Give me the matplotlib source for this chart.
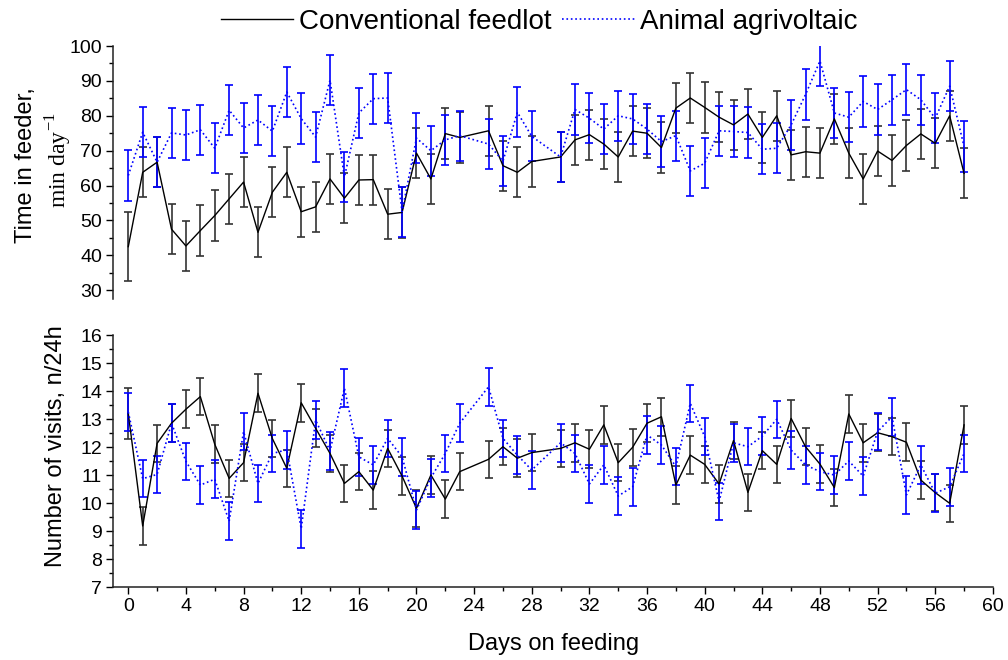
import numpy as np
import matplotlib
matplotlib.use('Agg')
from matplotlib import pyplot as plt
from matplotlib.lines import Line2D
from matplotlib.ticker import MultipleLocator

plt.rcParams['font.family'] = ['Liberation Sans', 'DejaVu Sans']

# days with records (24 and 29 missing)
days = list(range(0, 24)) + [25, 26, 27, 28] + list(range(30, 59))

# time in feeder, min/day
feed_conv = [42.5, 63.8, 66.7, 47.5, 42.7, 47.1, 51.4, 56.2, 61.0, 46.6, 58.1, 63.8,
             52.5, 53.9, 61.9, 56.4, 61.6, 61.7, 51.8, 52.3, 69.3, 61.9, 74.9, 73.8,
             75.7, 65.7, 63.8, 66.9,
             68.2, 73.1, 74.6, 71.9, 68.2, 75.6, 75.0, 70.9, 82.2, 85.1, 82.4, 79.6,
             77.4, 80.5, 73.8, 80.0, 68.8, 69.7, 69.3, 79.1, 69.3, 61.9, 69.9, 67.2,
             71.5, 74.8, 72.1, 80.0, 63.5]
feed_conv_err = [9.8] + [7.2] * 56
feed_agri = [62.9, 75.3, 66.7, 75.1, 74.5, 76.0, 70.7, 81.6, 76.5, 78.8, 75.6, 86.8,
             79.2, 73.9, 90.2, 62.5, 80.8, 84.9, 85.1, 52.5, 73.6, 70.0, 73.1, 74.3,
             71.9, 67.0, 81.0, 74.1,
             68.2, 81.8, 79.3, 76.2, 80.0, 79.1, 76.2, 72.6, 74.3, 64.2, 66.4, 75.7,
             75.5, 75.2, 70.4, 70.7, 77.4, 86.1, 95.7, 80.8, 79.6, 84.1, 81.8, 84.6,
             87.5, 84.6, 79.3, 88.5, 71.2]
feed_agri_err = [7.2] * 57

# number of visits, n/24h
visit_conv = [13.2, 9.18, 12.13, 12.85, 13.35, 13.8, 12.1, 10.88, 11.44, 13.92, 12.3, 11.24,
              13.58, 12.67, 11.77, 10.7, 11.12, 10.46, 11.95, 10.96, 9.81, 11.0, 10.14, 11.12,
              11.56, 12.01, 11.6, 11.8,
              11.95, 12.15, 11.92, 12.79, 11.44, 11.99, 12.85, 13.08, 10.64, 11.71, 11.38, 10.68,
              12.23, 10.38, 11.87, 11.38, 13.02, 12.01, 11.39, 10.55, 13.18, 12.15, 12.51, 12.37,
              12.17, 10.82, 10.37, 9.99, 12.79]
visit_conv_err = [0.9] + [0.67] * 56
visit_agri = [13.25, 10.87, 11.02, 12.85, 11.49, 10.64, 10.85, 9.35, 12.55, 10.7, 11.77, 11.9,
              9.08, 12.96, 11.86, 14.1, 11.65, 11.36, 12.31, 11.65, 9.75, 10.9, 11.77, 12.85,
              14.15, 12.31, 11.71, 11.18,
              12.15, 11.77, 10.68, 11.36, 10.25, 10.58, 12.43, 12.07, 11.3, 13.56, 12.37, 10.05,
              12.15, 12.01, 12.39, 12.99, 11.89, 11.36, 11.12, 11.0, 11.5, 10.96, 12.55, 13.08,
              10.29, 11.36, 10.35, 10.58, 11.77]
visit_agri_err = [0.67] * 57

black = '#000000'
blue = '#0000ff'

fig = plt.figure(figsize=(10.08, 6.6), dpi=100)
ax1 = fig.add_axes([0.1124, 0.547, 0.8726, 0.3833])
ax2 = fig.add_axes([0.1124, 0.1106, 0.8726, 0.3818])

for ax, conv, conv_e, agri, agri_e in [(ax1, feed_conv, feed_conv_err, feed_agri, feed_agri_err),
                                       (ax2, visit_conv, visit_conv_err, visit_agri, visit_agri_err)]:
    ax.errorbar(days, conv, yerr=conv_e, fmt='-', color=black, lw=1.0,
                ecolor='#333333', elinewidth=1.2, capsize=3, capthick=1.2)
    ax.errorbar(days, agri, yerr=agri_e, fmt=':', color=blue, lw=1.2,
                ecolor=blue, elinewidth=1.2, capsize=3, capthick=1.2)
    ax.set_xlim(-1.04, 60)
    for s in ['top', 'right']:
        ax.spines[s].set_visible(False)
    for s in ['left', 'bottom']:
        ax.spines[s].set_linewidth(1.1)
        ax.spines[s].set_color('#222222')
    ax.tick_params(which='major', direction='out', length=5, width=1.0, labelsize=14, pad=3)
    ax.tick_params(which='minor', direction='out', length=3, width=1.0)

# top panel
ax1.set_ylim(27.5, 100)
ax1.yaxis.set_major_locator(MultipleLocator(10))
ax1.yaxis.set_minor_locator(MultipleLocator(5))
ax1.set_yticks([30, 40, 50, 60, 70, 80, 90, 100])
ax1.spines['bottom'].set_visible(False)
ax1.set_xticks([])

# bottom panel
ax2.set_ylim(7, 16)
ax2.yaxis.set_major_locator(MultipleLocator(1))
ax2.yaxis.set_minor_locator(MultipleLocator(0.5))
ax2.xaxis.set_major_locator(MultipleLocator(4))
ax2.xaxis.set_minor_locator(MultipleLocator(2))
ax2.set_xlabel('Days on feeding', fontsize=17, labelpad=13)

# y labels
fig.text(0.026, 0.75, 'Time in feeder,', rotation=90, ha='center', va='center', fontsize=17)
fig.text(0.058, 0.757, r'min day$^{\mathregular{-1}}$', rotation=90, ha='center', va='center',
         fontsize=17, family=['Liberation Serif', 'DejaVu Serif'])
fig.text(0.056, 0.324, 'Number of visits, n/24h', rotation=90, ha='center', va='center', fontsize=17)

handles = [Line2D([], [], color=black, lw=1.0, ls='-'),
           Line2D([], [], color=blue, lw=1.2, ls=':')]
fig.legend(handles, ['Conventional feedlot', 'Animal agrivoltaic'], loc='upper center',
           bbox_to_anchor=(0.535, 1.025), ncol=2, frameon=False, fontsize=20,
           handlelength=2.6, handletextpad=0.2, columnspacing=0.4)

plt.savefig('out.png', dpi=100)
